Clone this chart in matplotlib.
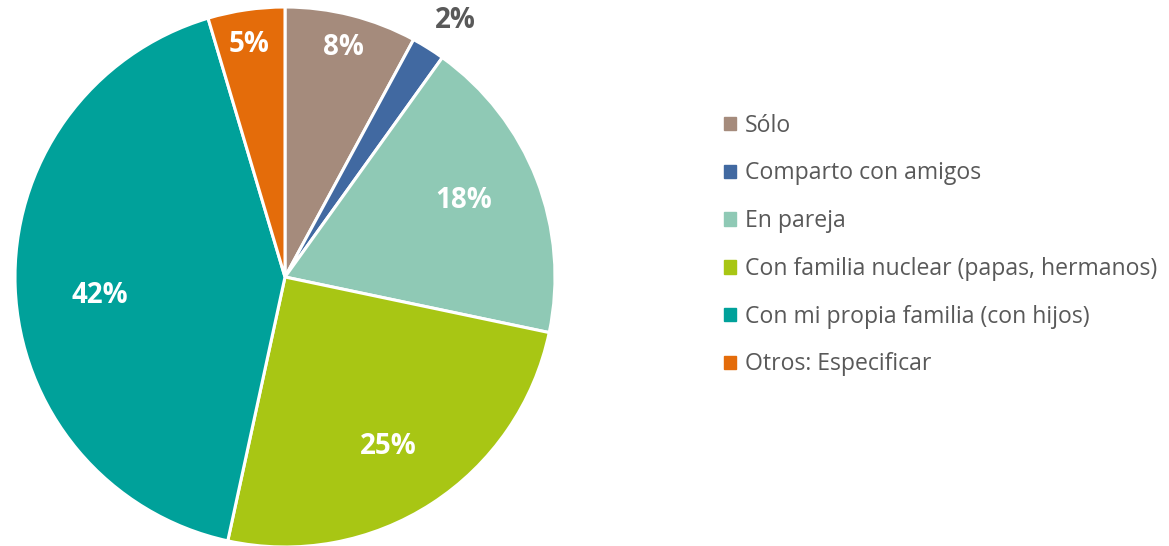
import numpy as np
import matplotlib.pyplot as plt

plt.rcParams['font.family'] = ['Open Sans', 'DejaVu Sans']

# data
categories = ['Sólo', 'Comparto con amigos', 'En pareja',
              'Con familia nuclear (papas, hermanos)',
              'Con mi propia familia (con hijos)', 'Otros: Especificar']
values = [7.9, 2.0, 18.4, 25.1, 42.0, 4.6]
pct_labels = ['8%', '2%', '18%', '25%', '42%', '5%']
colors = ['#A58B7C', '#4169A1', '#8FC9B5', '#A8C614', '#00A19A', '#E46C0A']

# label placement: fraction of radius + small angle nudge (deg), like Excel best fit
label_dist = [0.875, 1.14, 0.72, 0.735, 0.69, 0.87]
label_nudge = [0, -1.5, 2.0, -1.5, 3.5, 0.5]
label_color = ['white', '#595959', 'white', 'white', 'white', 'white']

fig = plt.figure(figsize=(11.69, 5.46), dpi=100)
ax = fig.add_axes([15 / 1169, -1 / 546, 540 / 1169, 540 / 546])

wedges, _ = ax.pie(values, colors=colors, startangle=90, counterclock=False,
                   radius=1.0,
                   wedgeprops=dict(edgecolor='white', linewidth=2.2))
ax.set_xlim(-1, 1)
ax.set_ylim(-1, 1)
ax.set_aspect('equal')
ax.axis('off')

for w, lab, d, nd, c in zip(wedges, pct_labels, label_dist, label_nudge, label_color):
    ang = np.deg2rad((w.theta1 + w.theta2) / 2 + nd)
    ax.text(d * np.cos(ang), d * np.sin(ang), lab, ha='center', va='center',
            color=c, fontsize=20, fontweight='bold')

handles = [plt.Rectangle((0, 0), 1, 1, color=c) for c in colors]
leg = fig.legend(handles, categories, loc='upper left',
                 bbox_to_anchor=(703 / 1169, 1 - 93 / 546),
                 frameon=False, fontsize=16.6, labelcolor='#595959',
                 handlelength=0.52, handleheight=0.52, handletextpad=0.4,
                 labelspacing=1.03)

fig.savefig('out.png', dpi=100)
